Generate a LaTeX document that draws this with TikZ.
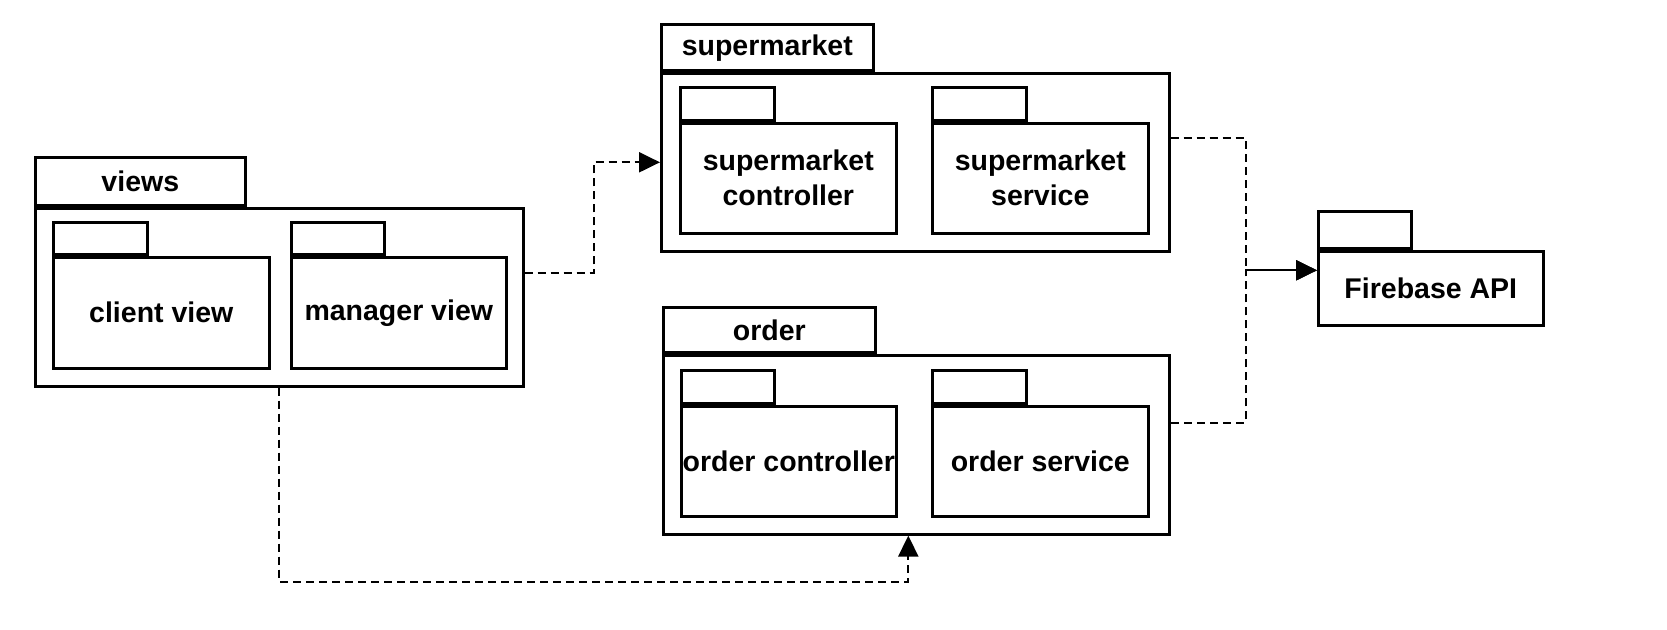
\documentclass[tikz,border=0pt]{standalone}
\usepackage{fontspec}
\setmainfont{Liberation Sans}
\usetikzlibrary{arrows.meta}
\tikzset{
  pkgbody/.style={draw, line width=2.6pt, anchor=north west, inner sep=0pt, fill=white,
    font=\fontsize{28.5}{35}\selectfont\bfseries, align=center},
  pkgtab/.style={draw, line width=2.6pt, anchor=south west, inner sep=0pt, fill=white,
    font=\fontsize{28.5}{35}\selectfont\bfseries},
  dep/.style={line width=2.2pt, dash pattern=on 8pt off 5pt, -{Triangle[length=21pt,width=20pt]}},
}
\begin{document}
\begin{tikzpicture}[x=1pt,y=-1pt]
\useasboundingbox (0,0) rectangle (1667,629);
% views
\node[pkgtab, minimum width=210pt, minimum height=48pt] (viewstab) at (34,207) {views};
\node[pkgbody, minimum width=488pt, minimum height=178pt] (views) at (34,207) {};
\node[pkgtab, minimum width=94pt, minimum height=32pt] (cvtab) at (52,256) {};
\node[pkgbody, minimum width=216pt, minimum height=111pt] (cv) at (52,256) {client view};
\node[pkgtab, minimum width=93pt, minimum height=32pt] (mvtab) at (290,256) {};
\node[pkgbody, minimum width=215pt, minimum height=111pt] (mv) at (290,256) {manager view};
% supermarket
\node[pkgtab, minimum width=212pt, minimum height=46pt] (smtab) at (660,72) {supermarket};
\node[pkgbody, minimum width=508pt, minimum height=178pt] (sm) at (660,72) {};
\node[pkgtab, minimum width=94pt, minimum height=33pt] (smctab) at (679,122) {};
\node[pkgbody, minimum width=216pt, minimum height=110pt] (smc) at (679,122) {supermarket\\controller};
\node[pkgtab, minimum width=94pt, minimum height=33pt] (smstab) at (931,122) {};
\node[pkgbody, minimum width=216pt, minimum height=110pt] (sms) at (931,122) {supermarket\\service};
% order
\node[pkgtab, minimum width=212pt, minimum height=45pt] (ordtab) at (662,354) {order};
\node[pkgbody, minimum width=506pt, minimum height=179pt] (ord) at (662,354) {};
\node[pkgtab, minimum width=93pt, minimum height=33pt] (occtab) at (680,405) {};
\node[pkgbody, minimum width=215pt, minimum height=110pt] (occ) at (680,405) {order controller};
\node[pkgtab, minimum width=94pt, minimum height=33pt] (osvtab) at (931,405) {};
\node[pkgbody, minimum width=216pt, minimum height=110pt] (osv) at (931,405) {order service};
% firebase
\node[pkgtab, minimum width=93pt, minimum height=37pt] (fbtab) at (1317,250) {};
\node[pkgbody, minimum width=225pt, minimum height=74pt] (fb) at (1317,250) {\raisebox{-6pt}{Firebase API}};
% connectors
\draw[dep] ([yshift=24pt]views.east) -- ++(69,0) |- (sm.west);
\draw[dep] ([yshift=24pt]sm.east) -- ++(75,0) |- ([yshift=18pt]fb.west);
\draw[dep, dash phase=12.5pt] ([yshift=22pt]ord.east) -- ++(75,0) |- ([yshift=18pt]fb.west);
\draw[dep] (views.south) -- ++(0,194) -| ([xshift=-8pt]ord.south);
\end{tikzpicture}
\end{document}
